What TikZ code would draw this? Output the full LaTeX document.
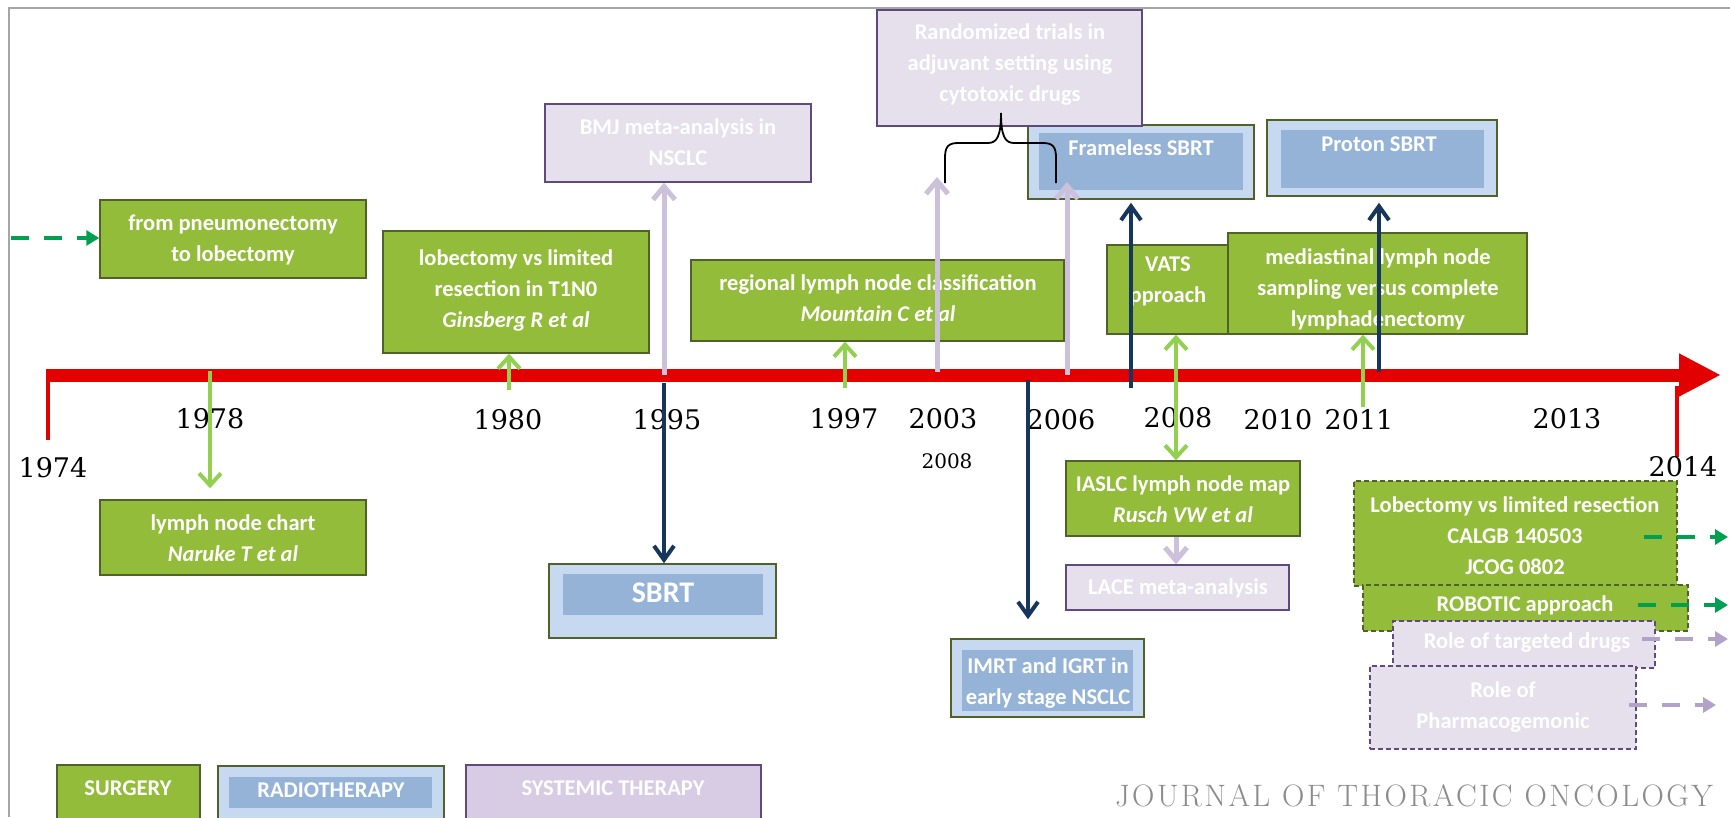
\documentclass[tikz,border=0pt]{standalone}
\usepackage{fontspec}
\setsansfont{Carlito}
\newfontfamily\yearfont{DejaVu Serif}
\newfontfamily\jfont{Latin Modern Roman}[LetterSpace=8]
\usetikzlibrary{arrows.meta,fit}
\definecolor{gfill}{RGB}{146,188,58}
\definecolor{gborder}{RGB}{79,98,40}
\definecolor{lfill}{RGB}{229,224,236}
\definecolor{lborder}{RGB}{96,74,123}
\definecolor{lleg}{RGB}{215,204,228}
\definecolor{bout}{RGB}{198,217,241}
\definecolor{bin}{RGB}{149,179,215}
\definecolor{garr}{RGB}{146,208,80}
\definecolor{navy}{RGB}{23,54,93}
\definecolor{larr}{RGB}{204,192,218}
\definecolor{tlred}{RGB}{226,0,0}
\definecolor{dgreen}{RGB}{0,160,80}
\definecolor{dlav}{RGB}{179,162,199}
\definecolor{jgray}{RGB}{140,140,140}
\begin{document}
\begin{tikzpicture}[x=1pt,y=-1pt,
  boxbase/.style={line width=1.5pt, inner sep=0pt},
  gbox/.style={boxbase, draw=gborder, fill=gfill},
  lbox/.style={boxbase, draw=lborder, fill=lfill},
  legl/.style={boxbase, draw=lborder, fill=lleg},
  bouter/.style={boxbase, draw=gborder, fill=bout},
  binner/.style={boxbase, fill=bin},
  dgbox/.style={gbox, dash pattern=on 5pt off 3pt},
  dlbox/.style={lbox, dash pattern=on 5pt off 3pt},
  wtext/.style={text=white, align=center, inner sep=0pt, font=\sffamily\bfseries\fontsize{22.5}{31}\selectfont},
  year/.style={font=\yearfont\fontsize{27}{27}\selectfont, text=black, inner sep=0pt},
  garrow/.style={draw=garr, line width=4pt, -{Straight Barb[length=12pt,width=22pt]}},
  gdouble/.style={draw=garr, line width=4pt, {Straight Barb[length=12pt,width=22pt]}-{Straight Barb[length=12pt,width=22pt]}},
  larrow/.style={draw=larr, line width=5pt, -{Straight Barb[length=13pt,width=22pt]}},
  narrow/.style={draw=navy, line width=4pt, -{Straight Barb[length=14pt,width=20pt]}},
  dgarrow/.style={draw=dgreen, line width=4.5pt, dash pattern=on 18pt off 15pt, -{Triangle[length=13pt,width=15pt]}},
  dlarrow/.style={draw=dlav, line width=4.5pt, dash pattern=on 18pt off 15pt, -{Triangle[length=13pt,width=15pt]}}
]
\useasboundingbox (0,0) rectangle (1730,817);
\fill[white] (0,0) rectangle (1730,817);
\draw[gray!70, line width=1.5pt] (9,817) -- (9,8) -- (1730,8);

% timeline
\coordinate (tlstart) at (46,375);
\coordinate (tlend) at (1721,375);
\draw[tlred, line width=13pt, -{Triangle[length=42pt,width=40pt]}] (tlstart) -- (tlend);
\coordinate (tickLa) at (48,370);
\coordinate (tickLb) at (48,440);
\draw[tlred, line width=4pt] (tickLa) -- (tickLb);
\coordinate (tickRa) at (1677,386);
\coordinate (tickRb) at (1677,457);
\draw[tlred, line width=4pt] (tickRa) -- (tickRb);

% boxes
\node[gbox, fit={(100,200)(366,278)}] (pneumo) {};
\node[wtext] (pneumoT) at (233,240) {from pneumonectomy\\to lobectomy};
\node[gbox, fit={(383,231)(649,353)}] (lobvs) {};
\node[wtext] (lobvsT) at (516,290) {lobectomy vs limited\\resection in T1N0\\\itshape Ginsberg R et al};
\node[lbox, fit={(545,104)(811,182)}] (bmj) {};
\node[wtext] (bmjT) at (678,142) {BMJ meta-analysis in\\NSCLC};
\node[bouter, fit={(1028,125)(1254,199)}] (frameO) {};
\node[binner, fit={(1039,133)(1243,190)}] (frameI) {};
\node[wtext] (frameT) at (1141,148) {Frameless SBRT};
\node[lbox, fit={(877,10)(1142,126)}] (random) {};
\node[wtext] (randomT) at (1010,65) {Randomized trials in\\adjuvant setting using\\cytotoxic drugs};
\node[bouter, fit={(1267,120)(1497,196)}] (protonO) {};
\node[binner, fit={(1281,130)(1484,188)}] (protonI) {};
\node[wtext] (protonT) at (1379,144) {Proton SBRT};
\node[gbox, fit={(691,260)(1064,341)}] (regional) {};
\node[wtext] (regionalT) at (878,298) {regional lymph node classification\\\itshape Mountain C et al};
\node[gbox, fit={(1107,245)(1229,334)}] (vats) {};
\node[wtext] (vatsT) at (1168,281) {VATS\\pproach};
\node[gbox, fit={(1228,233)(1527,334)}] (medi) {};
\node[wtext] (mediT) at (1378,289) {mediastinal lymph node\\sampling versus complete\\lymphadenectomy};
\node[gbox, fit={(100,500)(366,575)}] (chart) {};
\node[wtext] (chartT) at (233,538) {lymph node chart\\\itshape Naruke T et al};
\node[bouter, fit={(549,564)(776,638)}] (sbrtO) {};
\node[binner, fit={(563,574)(763,615)}] (sbrtI) {};
\node[wtext, font=\sffamily\bfseries\fontsize{30}{34}\selectfont] (sbrtT) at (663,593) {SBRT};
\node[bouter, fit={(951,639)(1144,717)}] (imrtO) {};
\node[binner, fit={(962,650)(1133,711)}] (imrtI) {};
\node[wtext] (imrtT) at (1048,683) {IMRT and IGRT in\\early stage NSCLC};
\node[gbox, fit={(1066,461)(1300,536)}] (iaslc) {};
\node[wtext] (iaslcT) at (1183,499) {IASLC lymph node map\\\itshape Rusch VW et al};
\node[lbox, fit={(1066,565)(1289,610)}] (lace) {};
\node[wtext] (laceT) at (1178,588) {LACE meta-analysis};
\node[dgbox, fit={(1354,481)(1677,586)}] (calgb) {};
\node[wtext] (calgbT) at (1515,536) {Lobectomy vs limited resection\\CALGB 140503\\JCOG 0802};
\node[dgbox, fit={(1363,585)(1688,631)}] (robotic) {};
\node[wtext] (roboticT) at (1525,605) {ROBOTIC approach};
\node[dlbox, fit={(1393,621)(1655,668)}] (targeted) {};
\node[wtext] (targetedT) at (1527,643) {Role of targeted drugs};
\node[dlbox, fit={(1370,666)(1636,749)}] (pharma) {};
\node[wtext] (pharmaT) at (1503,707) {Role of\\Pharmacogemonic};

% legend
\node[gbox, fit={(57,765)(200,830)}] (legS) {};
\node[wtext] (legST) at (128,788) {SURGERY};
\node[bouter, fit={(218,766)(444,830)}] (legRO) {};
\node[binner, fit={(229,777)(432,808)}] (legRI) {};
\node[wtext] (legRT) at (331,790) {RADIOTHERAPY};
\node[legl, fit={(466,765)(761,830)}] (legY) {};
\node[wtext] (legYT) at (613,788) {SYSTEMIC THERAPY};

\node[text=jgray, font=\jfont\fontsize{31}{31}\selectfont, inner sep=0pt] (journal) at (1414,796) {JOURNAL OF THORACIC ONCOLOGY};

% years
\node[year] (y1974) at (53,468) {1974};
\node[year] (y1978) at (210,419) {1978};
\node[year] (y1980) at (508,420) {1980};
\node[year] (y1995) at (667,420) {1995};
\node[year] (y1997) at (844,419) {1997};
\node[year] (y2003) at (943,419) {2003};
\node[year, font=\yearfont\fontsize{20}{20}\selectfont] (y2008s) at (947,461) {2008};
\node[year] (y2006) at (1061,420) {2006};
\node[year] (y2008) at (1178,418) {2008};
\node[year] (y2010) at (1278,420) {2010};
\node[year] (y2011) at (1359,420) {2011};
\node[year] (y2013) at (1567,419) {2013};
\node[year] (y2014) at (1683,467) {2014};

% brace
\draw[black, line width=1.8pt] (945,183) -- (945,158) .. controls (945,147) and (948,143) .. (958,143) -- (988,143) .. controls (997,143) and (1001,136) .. (1001,113) .. controls (1001,136) and (1005,143) .. (1014,143) -- (1043,143) .. controls (1053,143) and (1056,147) .. (1056,158) -- (1056,183);

% connectors
\coordinate (a1978) at (210,371);
\draw[garrow, shorten >=11pt] (a1978) -- (chart.north -| a1978);
\coordinate (a1980) at (509,390);
\draw[garrow] (a1980) -- (lobvs.south -| a1980);
\coordinate (a1995l) at (664,375);
\draw[larrow] (a1995l) -- (bmj.south -| a1995l);
\coordinate (a1995n) at (664,383);
\draw[narrow] (a1995n) -- (sbrtO.north -| a1995n);
\coordinate (a1997) at (845,388);
\draw[garrow] (a1997) -- (regional.south -| a1997);
\coordinate (a2003) at (937,372);
\coordinate (b2003) at (937,177);
\draw[larrow] (a2003) -- (b2003);
\coordinate (a2006) at (1067,375);
\coordinate (b2006) at (1067,182);
\draw[larrow] (a2006) -- (b2006);
\coordinate (a2006n) at (1028,380);
\draw[narrow, shorten >=19pt] (a2006n) -- (imrtO.north -| a2006n);
\coordinate (a2008n) at (1131,388);
\draw[narrow, shorten >=3pt] (a2008n) -- (frameO.south -| a2008n);
\coordinate (x2008) at (1176,400);
\draw[gdouble] (vats.south -| x2008) -- (iaslc.north -| x2008);
\draw[larrow] (iaslc.south -| x2008) -- (lace.north -| x2008);
\coordinate (a2011) at (1363,407);
\draw[garrow] (a2011) -- (medi.south -| a2011);
\coordinate (a2011n) at (1379,372);
\draw[narrow, shorten >=6pt] (a2011n) -- (protonO.south -| a2011n);

% dashed arrows
\coordinate (lstart) at (11,238);
\draw[dgarrow] (lstart) -- (pneumo.west |- lstart);
\coordinate (r1s) at (1644,537); \coordinate (r1e) at (1728,537);
\draw[dgarrow] (r1s) -- (r1e);
\coordinate (r2s) at (1638,605); \coordinate (r2e) at (1728,605);
\draw[dgarrow] (r2s) -- (r2e);
\coordinate (r3s) at (1642,639); \coordinate (r3e) at (1728,639);
\draw[dlarrow] (r3s) -- (r3e);
\coordinate (r4s) at (1629,705); \coordinate (r4e) at (1716,705);
\draw[dlarrow] (r4s) -- (r4e);
\end{tikzpicture}
\end{document}
